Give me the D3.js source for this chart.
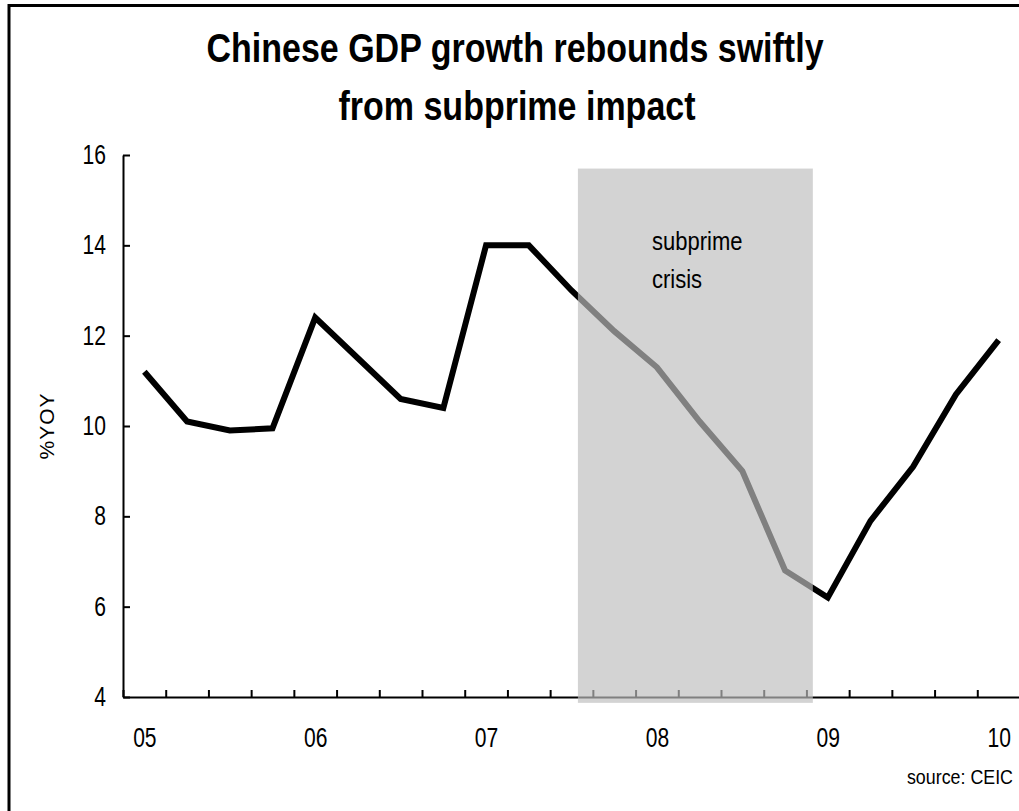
<!DOCTYPE html>
<html>
<head>
<meta charset="utf-8">
<style>
body { margin: 0; background: #fff; }
svg { display: block; }
.axis path, .axis line { stroke: #000; }
.axis text { font-family: "Liberation Sans", Arial, sans-serif; font-size: 27px; fill: #000; }
.title { font-family: "Liberation Sans", Arial, sans-serif; font-weight: bold; font-size: 40px; text-anchor: middle; }
.note { font-family: "Liberation Sans", Arial, sans-serif; }
</style>
</head>
<body>
<svg id="chart"></svg>
<script src="https://d3js.org/d3.v7.min.js"></script>
<script>
// quarterly, Q1 2005 .. Q1 2010
var quarters = ["05Q1","05Q2","05Q3","05Q4","06Q1","06Q2","06Q3","06Q4",
  "07Q1","07Q2","07Q3","07Q4","08Q1","08Q2","08Q3","08Q4",
  "09Q1","09Q2","09Q3","09Q4","10Q1"];
var gdpYoY = [11.2, 10.1, 9.9, 9.95, 12.4, 11.5, 10.6, 10.4,
  14.0, 14.0, 13.0, 12.1, 11.3, 10.1, 9.0, 6.8,
  6.2, 7.9, 9.1, 10.7, 11.9];
var yearLabels = ["05", "06", "07", "08", "09", "10"];
var yTicks = [4, 6, 8, 10, 12, 14, 16];
// shaded subprime period, in quarter index / %YoY units
var crisisStart = 10.65, crisisEnd = 16.15;
var crisisLow = 3.87, crisisHigh = 15.7;

var width = 1019, height = 811;
var svg = d3.select("#chart").attr("width", width).attr("height", height);

var x = d3.scaleLinear().domain([0, quarters.length]).range([123, 1020]);
var y = d3.scaleLinear().domain([4, 16]).range([697, 155]);

// the original uses a narrow face; squeeze the glyphs horizontally
function squeeze(sel, k) {
  sel.each(function() {
    var w = this.getComputedTextLength();
    d3.select(this).attr("textLength", w * k).attr("lengthAdjust", "spacingAndGlyphs");
  });
}

// frame (cropped on the right and bottom)
svg.append("path")
  .attr("d", "M9,811 V5.5 H1019")
  .attr("fill", "none")
  .attr("stroke", "#000")
  .attr("stroke-width", 3);

svg.append("text").attr("class", "title").attr("x", 515).attr("y", 62).text("Chinese GDP growth rebounds swiftly");
svg.append("text").attr("class", "title").attr("x", 517).attr("y", 120).text("from subprime impact");
squeeze(svg.selectAll(".title"), 0.85);

// y axis
svg.append("g")
  .attr("class", "axis")
  .attr("transform", "translate(123,0)")
  .call(d3.axisLeft(y).tickValues(yTicks).tickSize(-7).tickPadding(17).tickSizeOuter(0))
  .call(g => g.selectAll("path, line").attr("stroke-width", 2));

// x axis: quarter ticks
svg.append("g")
  .attr("class", "axis")
  .attr("transform", "translate(0,697)")
  .call(d3.axisBottom(x).tickValues(d3.range(0, quarters.length + 1)).tickSize(-7).tickFormat("").tickSizeOuter(0))
  .call(g => g.selectAll("path, line").attr("stroke-width", 2));

// year labels centered on Q1
svg.append("g")
  .attr("class", "axis")
  .attr("transform", "translate(0,697)")
  .call(d3.axisBottom(x)
    .tickValues(yearLabels.map((d, i) => i * 4 + 0.5))
    .tickFormat((d, i) => yearLabels[i])
    .tickSize(0).tickPadding(31))
  .call(g => g.select(".domain").remove());

squeeze(svg.selectAll(".axis text"), 0.78);

svg.append("text")
  .attr("transform", "translate(54,426) rotate(-90)")
  .attr("text-anchor", "middle")
  .style("font-family", "'Liberation Sans', Arial, sans-serif")
  .style("font-size", "21px")
  .style("letter-spacing", "1px")
  .text("%YOY");

var line = d3.line()
  .x((d, i) => x(i + 0.5))
  .y(d => y(d));

svg.append("path")
  .datum(gdpYoY)
  .attr("d", line)
  .attr("fill", "none")
  .attr("stroke", "#000")
  .attr("stroke-width", 6)
  .attr("stroke-linejoin", "miter");

svg.append("rect")
  .attr("x", x(crisisStart))
  .attr("y", y(crisisHigh))
  .attr("width", x(crisisEnd) - x(crisisStart))
  .attr("height", y(crisisLow) - y(crisisHigh))
  .attr("fill", "rgb(190,190,190)")
  .attr("fill-opacity", 0.675);

svg.append("text").attr("class", "note crisis").attr("x", 652).attr("y", 250)
  .style("font-size", "25px").text("subprime");
svg.append("text").attr("class", "note crisis").attr("x", 652).attr("y", 288)
  .style("font-size", "25px").text("crisis");
squeeze(svg.selectAll(".crisis"), 0.88);

// source note, right-aligned, narrowed with a scale transform
svg.append("text").attr("class", "note source")
  .attr("transform", "translate(1013,784) scale(0.85,1)")
  .attr("text-anchor", "end")
  .style("font-size", "21px")
  .text("source: CEIC");
</script>
</body>
</html>
